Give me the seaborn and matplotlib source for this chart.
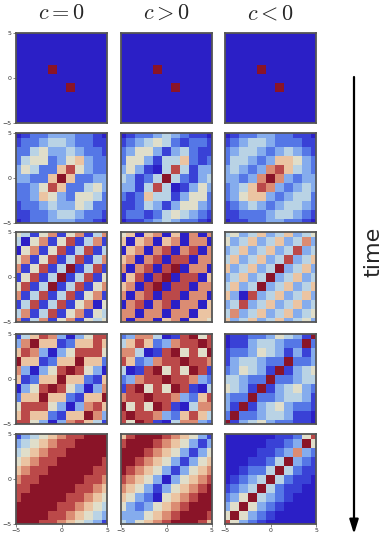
import numpy as np
import matplotlib
matplotlib.use("Agg")
import matplotlib.pyplot as plt
import seaborn as sns
from matplotlib.colors import LinearSegmentedColormap

sns.set_theme(style="white")
plt.rcParams["font.family"] = ["DejaVu Sans"]
plt.rcParams["mathtext.fontset"] = "cm"

# ---------------- data (levels 0 = deep blue ... 9 = deep red) ----------------
# rows: y = 5 (top) ... -5 (bottom); columns: x = -5 ... 5
col_titles = [r"$c=0$", r"$c>0$", r"$c<0$"]
tick_values = [-5, 0, 5]
tick_labels_x = ["\u22125", "0", "5"]
tick_labels_y = ["5", "0", "\u22125"]

t1 = ["00000000000", "00000000000", "00000000000", "00000000000",
      "00009000000", "00000000000", "00000090000", "00000000000",
      "00000000000", "00000000000", "00000000000"]

t2_c0 = ["01223332210", "12234432211", "22453343221", "24552356322",
         "35422685322", "33226962233", "22358622453", "22365325542",
         "12234335422", "11223443221", "01223332210"]
t2_cp = ["01223432110", "12345421221", "23553134211", "25531446212",
         "35310484133", "43124942134", "33148401353", "21264413552",
         "11243135532", "12212454321", "01123432210"]
t2_cn = ["01223322110", "12344322211", "23443234321", "24432366532",
         "34323786432", "33237973233", "23468732343", "23566323442",
         "12343234432", "11222344321", "01122332210"]

t3_c0 = ["54157157147", "40571581471", "05715814814", "57158148147",
         "71581491481", "15814914815", "58149148157", "71481481571",
         "14814815705", "47148157154", "71471571545"]
t3_cp = ["56067060707", "60670670770", "06707807807", "67078088077",
         "70780890770", "06808908806", "67089088077", "70780880770",
         "07807807706", "77077077066", "70770670665"]
t3_cn = ["45346346345", "53463463473", "34634634834", "46346348346",
         "63463493463", "34634934634", "46349346346", "63083463463",
         "34834634634", "47346346345", "63463463453"]

t4_c0 = ["14687303588", "37966126686", "68730358885", "96612669662",
         "73035898530", "61266966216", "03589853037", "26696621669",
         "58885303786", "68662166973", "88530378641"]
t4_cp = ["23774018958", "46862378898", "77401895859", "86237889887",
         "40189585981", "23788988732", "18958598104", "78898873268",
         "95859810477", "89887326864", "85981047732"]
t4_cn = ["01122354319", "01134432292", "12235431313", "13443229223",
         "23543191345", "44322922344", "54319134532", "32292234431",
         "31913453221", "29223443110", "91345322110"]

t5_c0 = ["13456788999", "34567889999", "45678899999", "56788999998",
         "67889999988", "78899999887", "88999998876", "89999988765",
         "99999887654", "99998876543", "99988765431"]
t5_cp = ["68999876531", "89998765313", "99987653135", "99876531356",
         "98765313567", "87653035678", "76531356789", "65320567899",
         "53235678999", "33356789998", "43567899986"]
t5_cn = ["00000011258", "00000112395", "00001123732", "00011249321",
         "00122494211", "01234942110", "12349421100", "23594321000",
         "35953210000", "59532100000", "85321000000"]

panels = [[t1, t1, t1],
          [t2_c0, t2_cp, t2_cn],
          [t3_c0, t3_cp, t3_cn],
          [t4_c0, t4_cp, t4_cn],
          [t5_c0, t5_cp, t5_cn]]


def to_array(rows):
    return np.array([[int(ch) for ch in r] for r in rows], dtype=float)


cmap = LinearSegmentedColormap.from_list(
    "temp",
    [(0.00, "#2b1fc6"), (0.12, "#3a44d8"), (0.25, "#5d86ea"),
     (0.38, "#9cc2ee"), (0.50, "#d3e3dc"), (0.62, "#eed8b6"),
     (0.74, "#e6a583"), (0.87, "#c4534f"), (1.00, "#8a1428")])

W, H = 382, 541
fig = plt.figure(figsize=(W / 100, H / 100), dpi=100)
fig.patch.set_facecolor("white")

col_x = [16, 121, 225]
row_y = [33, 133, 232, 334, 434]
pw, ph = 91, 90

for i in range(5):
    for j in range(3):
        ax = fig.add_axes([col_x[j] / W, 1 - (row_y[i] + ph) / H, pw / W, ph / H])
        sns.heatmap(to_array(panels[i][j]), ax=ax, cmap=cmap, vmin=0, vmax=9,
                    cbar=False, xticklabels=False, yticklabels=False,
                    linewidths=0)
        ax.set_xlim(0.5, 10.5)
        ax.set_ylim(10.5, 0.5)
        for sp in ax.spines.values():
            sp.set_visible(True)
            sp.set_color("#555555")
            sp.set_linewidth(1.3)
        ax.tick_params(length=0)
        if j == 0:
            ax.set_yticks([5 - v + 0.5 for v in [5, 0, -5]])
            ax.set_yticklabels(tick_labels_y, fontsize=4.5, color="#333333")
            ax.tick_params(axis="y", left=True, length=2, width=0.5,
                           pad=1, color="#555555")
        else:
            ax.set_yticks([])
        if i == 4:
            ax.set_xticks([v + 5 + 0.5 for v in tick_values])
            ax.set_xticklabels(tick_labels_x, fontsize=4.5, color="#333333")
            ax.tick_params(axis="x", bottom=True, length=2, width=0.5,
                           pad=1, color="#555555")
        else:
            ax.set_xticks([])

# column titles
for j, t in enumerate(col_titles):
    fig.text((col_x[j] + pw / 2) / W, 1 - 13 / H, t, fontsize=16,
             ha="center", va="center")

# time arrow
ov = fig.add_axes([0, 0, 1, 1])
ov.set_xlim(0, W)
ov.set_ylim(H, 0)
ov.axis("off")
ov.patch.set_alpha(0)
ov.annotate("", xy=(354, 534), xytext=(354, 77),
            arrowprops=dict(arrowstyle="-|>,head_length=0.7,head_width=0.22",
                            lw=1.6, color="black", shrinkA=0, shrinkB=0))
ov.text(373, 252, "time", rotation=90, fontsize=16, ha="center", va="center")

fig.savefig("out.png", dpi=100)
